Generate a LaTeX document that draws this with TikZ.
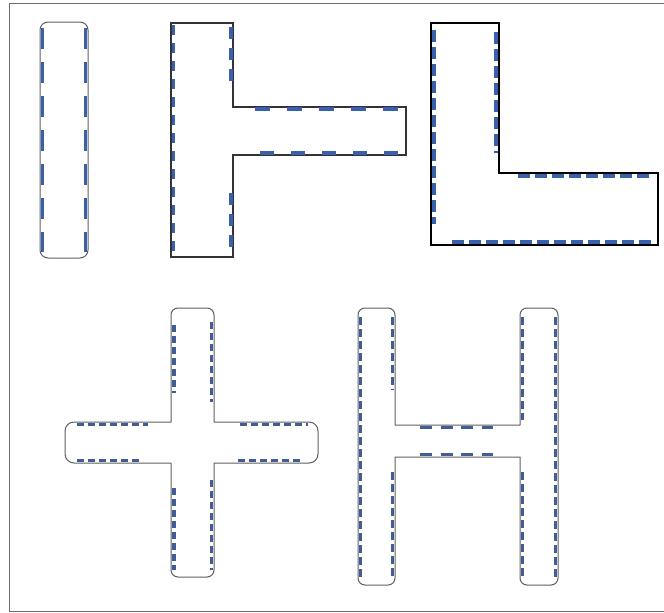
\documentclass[tikz,border=0pt]{standalone}
\usetikzlibrary{backgrounds}
\definecolor{dashblue}{RGB}{58,96,172}
\definecolor{hblue}{RGB}{66,92,150}
\definecolor{outlgray}{RGB}{95,95,95}
\definecolor{framegray}{RGB}{110,110,110}
\begin{document}
\begin{tikzpicture}[x=1pt,y=1pt,
  outl/.style={draw=outlgray,line width=1pt,line join=round},
  tout/.style={draw=black!80,line width=1.1pt},
  lout/.style={draw=black,line width=1.5pt},
  bd/.style={draw=dashblue,line width=3.6pt},
  hd/.style={draw=hblue,line width=3.2pt}]
\fill[white] (0,0) rectangle (664,-613);
\useasboundingbox (0,0) rectangle (664,-613);
% frame
\draw[framegray,line width=1.4pt] (664,-3.5) -- (9.5,-3.5) -- (9.5,-611.5) -- (664,-611.5);

% ---- I shape ----
\draw[outl,rounded corners=8pt] (40,-22) rectangle (88,-258);
\draw[bd,dash pattern=on 21pt off 13pt] (42.5,-28) -- (42.5,-252);
\draw[bd,dash pattern=on 21pt off 13pt] (85.5,-28) -- (85.5,-252);

% ---- T shape ----
\draw[tout] (171,-23) -- (233,-23) -- (233,-107) -- (406,-107) -- (406,-155) -- (233,-155) -- (233,-257) -- (171,-257) -- cycle;
\draw[bd,line width=3pt,dash pattern=on 10pt off 8pt] (173,-25) -- (173,-255);
\draw[bd,line width=3.2pt,dash pattern=on 12pt off 9pt] (231,-27) -- (231,-86);
\draw[bd,line width=3.2pt,dash pattern=on 12pt off 9pt] (231,-193) -- (231,-254);
\draw[bd,line width=3.2pt,dash pattern=on 15pt off 17pt] (255,-109) -- (399,-109);
\draw[bd,line width=3.2pt,dash pattern=on 14pt off 17pt] (260,-153) -- (400,-153);

% ---- L shape ----
\draw[lout] (431,-23) -- (499,-23) -- (499,-173) -- (658,-173) -- (658,-245) -- (431,-245) -- cycle;
\draw[bd,dash pattern=on 12pt off 5pt] (434,-30) -- (434,-224);
\draw[bd,dash pattern=on 12pt off 5pt] (496,-32) -- (496,-153);
\draw[bd,dash pattern=on 12pt off 5pt] (518,-176) -- (653,-176);
\draw[bd,dash pattern=on 12pt off 5pt] (452,-242) -- (654,-242);

% ---- cross shape ----
\draw[outl] (171,-422) -- (171,-315) arc[start angle=180,end angle=90,radius=7pt]
  -- (207,-308) arc[start angle=90,end angle=0,radius=7pt]
  -- (214,-422) -- (309,-422) arc[start angle=90,end angle=0,radius=9pt]
  -- (318,-454) arc[start angle=0,end angle=-90,radius=9pt]
  -- (214,-463) -- (214,-570) arc[start angle=0,end angle=-90,radius=7pt]
  -- (178,-577) arc[start angle=270,end angle=180,radius=7pt]
  -- (171,-463) -- (74,-463) arc[start angle=270,end angle=180,radius=9pt]
  -- (65,-431) arc[start angle=180,end angle=90,radius=9pt] -- cycle;
\draw[hd,dash pattern=on 7pt off 4pt] (174,-325) -- (174,-393);
\draw[hd,dash pattern=on 7pt off 4pt] (211.5,-322) -- (211.5,-402);
\draw[hd,dash pattern=on 7pt off 4pt] (174,-488) -- (174,-570);
\draw[hd,dash pattern=on 7pt off 4pt] (211.5,-480) -- (211.5,-570);
\draw[hd,dash pattern=on 7pt off 4pt] (77,-424.5) -- (148,-424.5);
\draw[hd,dash pattern=on 7pt off 4pt] (77,-460.5) -- (142,-460.5);
\draw[hd,dash pattern=on 7pt off 4pt] (240,-424.5) -- (308,-424.5);
\draw[hd,dash pattern=on 7pt off 4pt] (238,-460.5) -- (303,-460.5);

% ---- H shape ----
\draw[outl] (395,-425) -- (395,-315) arc[start angle=0,end angle=90,radius=7pt]
  -- (365,-308) arc[start angle=90,end angle=180,radius=7pt]
  -- (358,-578) arc[start angle=180,end angle=270,radius=7pt]
  -- (388,-585) arc[start angle=270,end angle=360,radius=7pt]
  -- (395,-457) -- (520,-457) -- (520,-578) arc[start angle=180,end angle=270,radius=7pt]
  -- (551,-585) arc[start angle=270,end angle=360,radius=7pt]
  -- (558,-315) arc[start angle=0,end angle=90,radius=7pt]
  -- (527,-308) arc[start angle=90,end angle=180,radius=7pt]
  -- (520,-425) -- cycle;
\draw[hd,dash pattern=on 8pt off 4pt] (360.5,-317) -- (360.5,-577);
\draw[hd,dash pattern=on 8pt off 4pt] (392.5,-317) -- (392.5,-390);
\draw[hd,dash pattern=on 8pt off 4pt] (392.5,-472) -- (392.5,-577);
\draw[hd,dash pattern=on 8pt off 4pt] (522.5,-317) -- (522.5,-420);
\draw[hd,dash pattern=on 8pt off 4pt] (522.5,-472) -- (522.5,-577);
\draw[hd,dash pattern=on 8pt off 4pt] (555.5,-317) -- (555.5,-577);
\draw[hd,dash pattern=on 12pt off 8.5pt] (420,-427.5) -- (493,-427.5);
\draw[hd,dash pattern=on 12pt off 8.5pt] (420,-454.5) -- (493,-454.5);
\end{tikzpicture}
\end{document}
